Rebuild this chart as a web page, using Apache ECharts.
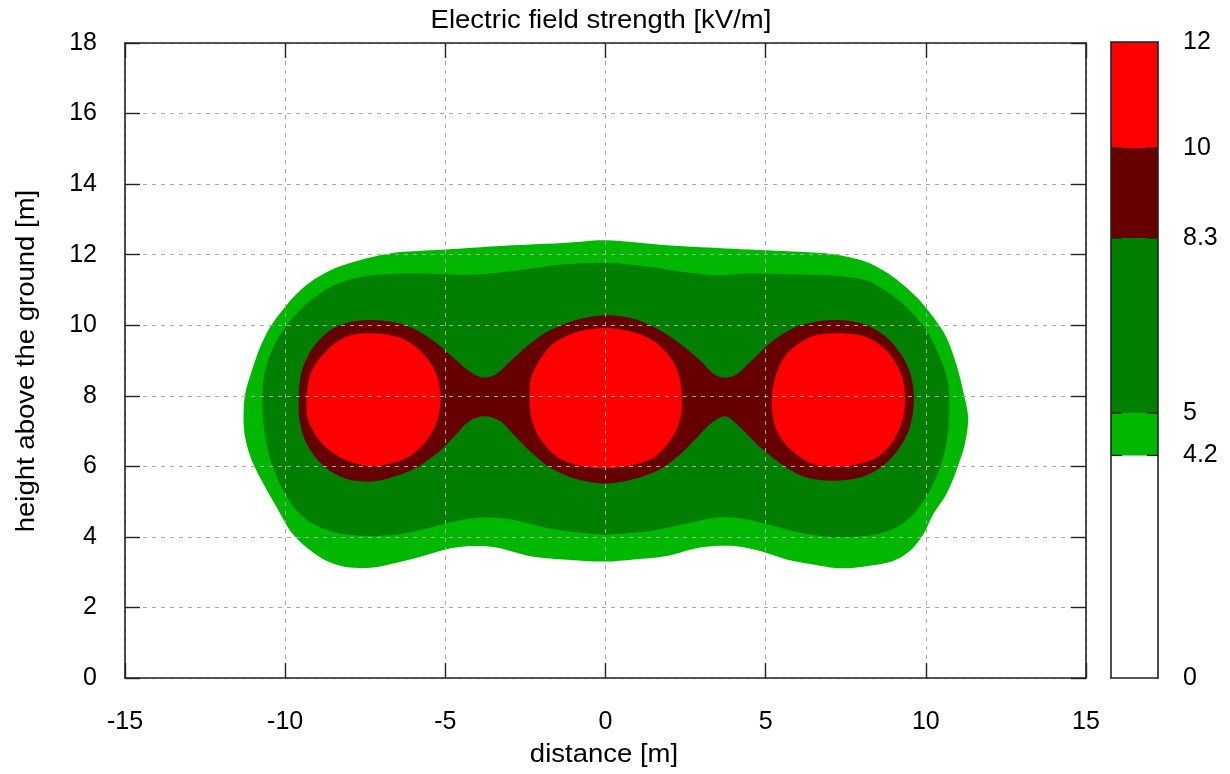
<!DOCTYPE html>
<html>
<head>
<meta charset="utf-8">
<script src="https://cdn.jsdelivr.net/npm/echarts@6/dist/echarts.min.js"></script>
<style>
html,body{margin:0;padding:0;background:#fff;}
#chart{width:1230px;height:774px;}
</style>
</head>
<body>
<div id="chart"></div>
<script>
// ---------- data ----------
const titleText = 'Electric field strength [kV/m]';
const xName = 'distance [m]';
const yName = 'height above the ground [m]';

// colour bar levels (kV/m)
const levelBounds = [0, 4.2, 5, 8.3, 10, 12];
const levelLabels = ['0', '4.2', '5', '8.3', '10', '12'];

// contour boundaries, points [distance m, height m]
const contour4_2 = [
  [0,12.41],[1.92,12.27],[4.0,12.17],[6.07,12.08],[7.11,12.01],[8.15,11.79],[8.98,11.37],[9.71,10.8],
  [10.23,10.23],[10.64,9.66],[10.95,8.9],[11.16,8.15],[11.32,7.39],[11.22,6.63],[10.95,5.87],[10.64,5.21],
  [10.23,4.64],[9.92,4.07],[9.5,3.6],[8.98,3.32],[8.15,3.17],[7.32,3.11],[6.49,3.22],[5.66,3.36],
  [4.83,3.6],[4.0,3.74],[2.96,3.7],[1.92,3.46],[0.88,3.36],[0,3.3],
  [-1.33,3.36],[-2.37,3.46],[-3.41,3.7],[-4.24,3.74],[-4.96,3.65],[-5.69,3.46],[-6.52,3.27],[-7.25,3.13],
  [-7.97,3.13],[-8.7,3.32],[-9.33,3.7],[-9.84,4.17],[-10.26,4.83],[-10.67,5.49],[-11.04,6.16],[-11.25,6.82],
  [-11.3,7.39],[-11.25,8.05],[-11.04,8.71],[-10.78,9.38],[-10.47,9.95],[-10.05,10.47],[-9.64,10.89],
  [-9.22,11.22],[-8.6,11.55],[-7.87,11.79],[-7.04,11.98],[-6.31,12.08],[-4.96,12.15],[-3.41,12.24],
  [-2.37,12.29],[-1.33,12.33]
];
const contour5 = [
  [0,11.77],[1.4,11.65],[2.44,11.51],[3.48,11.41],[4.2,11.46],[5.04,11.46],[6.07,11.44],[7.11,11.41],
  [8.15,11.27],[8.88,10.89],[9.5,10.42],[10.02,9.85],[10.44,9.09],[10.7,8.34],[10.73,7.39],[10.64,6.63],
  [10.44,5.97],[10.12,5.3],[9.61,4.64],[8.98,4.22],[8.15,4.03],[7.11,4.0],[6.07,4.12],[5.04,4.36],
  [4.2,4.53],[3.48,4.55],[2.44,4.36],[1.4,4.17],[0,4.07],
  [-0.81,4.12],[-1.85,4.26],[-2.99,4.5],[-3.82,4.55],[-4.65,4.45],[-5.48,4.26],[-6.52,4.07],[-7.56,4.03],
  [-8.39,4.12],[-9.12,4.36],[-9.64,4.74],[-10.05,5.3],[-10.42,6.06],[-10.62,6.82],[-10.7,7.48],[-10.7,8.24],
  [-10.57,8.9],[-10.26,9.57],[-9.84,10.13],[-9.33,10.61],[-8.7,11.03],[-8.08,11.27],[-7.35,11.41],
  [-6.52,11.46],[-5.48,11.46],[-4.44,11.43],[-3.41,11.48],[-2.37,11.6],[-1.33,11.72]
];
const contour8_3 = [
  [0,10.28],[0.88,10.18],[1.71,9.85],[2.34,9.47],[2.96,9.0],[3.38,8.62],[3.74,8.51],[4.1,8.62],
  [4.62,9.05],[5.24,9.57],[6.07,9.99],[7.11,10.15],[8.05,10.04],[8.77,9.66],[9.29,9.09],[9.55,8.52],
  [9.63,7.86],[9.5,7.1],[9.19,6.54],[8.67,6.02],[7.94,5.68],[7.11,5.59],[6.28,5.68],[5.56,6.02],
  [4.83,6.54],[4.21,7.1],[3.74,7.42],[3.27,7.2],[2.86,6.82],[2.34,6.35],[1.71,5.92],[0.88,5.64],[0,5.51],
  [-0.91,5.64],[-1.74,5.97],[-2.37,6.44],[-2.89,6.92],[-3.3,7.29],[-3.77,7.42],[-4.24,7.29],[-4.65,6.92],
  [-5.17,6.44],[-5.79,6.02],[-6.52,5.73],[-7.25,5.57],[-8.08,5.64],[-8.81,6.02],[-9.33,6.63],[-9.55,7.29],
  [-9.58,7.96],[-9.48,8.71],[-9.12,9.38],[-8.6,9.85],[-7.97,10.09],[-7.25,10.15],[-6.62,10.09],
  [-6.1,9.95],[-5.38,9.57],[-4.65,9.0],[-4.13,8.62],[-3.77,8.52],[-3.41,8.62],[-2.89,9.05],[-2.37,9.47],
  [-1.74,9.85],[-0.91,10.15]
];
const contour10Left = [
  [-7.25,9.77],[-6.31,9.61],[-5.69,9.19],[-5.28,8.62],[-5.15,7.96],[-5.25,7.29],[-5.64,6.67],[-6.25,6.22],
  [-7.25,6.0],[-8.16,6.2],[-8.87,6.67],[-9.27,7.29],[-9.33,7.96],[-9.17,8.71],[-8.68,9.3],[-8.08,9.68]
];
const contour10Center = [
  [0,9.92],[0.88,9.8],[1.56,9.52],[2.02,9.09],[2.28,8.62],[2.39,7.96],[2.32,7.29],[2.02,6.73],
  [1.51,6.25],[0.78,6.02],[0,5.95],[-0.81,6.02],[-1.48,6.25],[-2.0,6.73],[-2.29,7.29],[-2.37,7.96],
  [-2.32,8.52],[-2.06,9.0],[-1.64,9.47],[-0.91,9.8]
];
const contour10Right = [
  [7.22,9.77],[8.15,9.66],[8.77,9.28],[9.19,8.71],[9.35,8.05],[9.29,7.39],[9.0,6.75],[8.43,6.23],
  [7.42,5.99],[6.49,6.06],[5.79,6.47],[5.35,7.01],[5.19,7.77],[5.3,8.52],[5.66,9.19],[6.39,9.66]
];

// ---------- styling ----------
const FONT = 'Liberation Sans, Arial, sans-serif';
const FS = 25;
const TEXT_STRETCH = 1.1;
const levelColors = ['#ffffff', '#00b800', '#007f00', '#660000', '#ff0000'];
const gridDash = {color: '#a8a8a8', width: 1, type: [4, 5]};
const FRAME_COLOR = '#222';
function frame() { return {show: true, onZero: false, lineStyle: {color: FRAME_COLOR, width: 1.6}}; }
function tickIn() { return {show: true, inside: true, length: 15, lineStyle: {color: FRAME_COLOR, width: 1.4}}; }
function hidden() { return {show: false}; }

function polygonSeries(points, color, z) {
  return {
    type: 'custom',
    coordinateSystem: 'cartesian2d',
    xAxisIndex: 0, yAxisIndex: 0,
    silent: true, z: z,
    encode: {x: 0, y: 1},
    data: points,
    renderItem: function (params, api) {
      if (params.dataIndex !== 0) return null;
      const pts = points.map(p => api.coord(p));
      return {type: 'polygon', shape: {points: pts, smooth: 0.3}, style: {fill: color, stroke: null}};
    }
  };
}

function label(text, x, y, rotation) {
  return {
    type: 'text', x: x, y: y, rotation: rotation || 0, scaleX: TEXT_STRETCH, z: 10, silent: true,
    style: {
      text: text, fill: '#000', font: FS + 'px ' + FONT,
      textAlign: 'center', align: 'center', textVerticalAlign: 'middle', verticalAlign: 'middle'
    }
  };
}

const barItems = levelBounds.slice(0, -1).map((lo, i) => [lo, levelBounds[i + 1], i]);

const chart = echarts.init(document.getElementById('chart'), null, {renderer: 'canvas'});
chart.setOption({
  animation: false,
  backgroundColor: '#fff',
  textStyle: {fontFamily: FONT, color: '#000'},
  graphic: [
    label(titleText, 601, 21, 0),
    label(xName, 604, 755, 0),
    label(yName, 27, 361, Math.PI / 2)
  ],
  grid: [
    {left: 125, right: 144, top: 43, bottom: 96},
    {left: 1111, width: 47, top: 42, bottom: 96}
  ],
  xAxis: [
    { // 0: bottom frame, ticks, labels
      gridIndex: 0, type: 'value', min: -15, max: 15, interval: 5, position: 'bottom', z: 6,
      axisLine: frame(), axisTick: tickIn(),
      axisLabel: {fontFamily: FONT, fontSize: FS, color: '#000', margin: 32},
      splitLine: hidden()
    },
    { // 1: top frame, ticks
      gridIndex: 0, type: 'value', min: -15, max: 15, interval: 5, position: 'top', z: 6,
      axisLine: frame(), axisTick: tickIn(), axisLabel: hidden(), splitLine: hidden()
    },
    { // 2: colour bar bottom
      gridIndex: 1, type: 'value', min: 0, max: 1, position: 'bottom', z: 6,
      axisLine: frame(), axisTick: hidden(), axisLabel: hidden(), splitLine: hidden()
    },
    { // 3: colour bar top
      gridIndex: 1, type: 'value', min: 0, max: 1, position: 'top', z: 6,
      axisLine: frame(), axisTick: hidden(), axisLabel: hidden(), splitLine: hidden()
    },
    { // 4: vertical dashed grid lines only
      gridIndex: 0, type: 'value', min: -15, max: 15, interval: 5, position: 'bottom', z: 5,
      axisLine: hidden(), axisTick: hidden(), axisLabel: hidden(),
      splitLine: {show: true, lineStyle: gridDash}
    }
  ],
  yAxis: [
    { // 0: left frame, ticks, labels
      gridIndex: 0, type: 'value', min: 0, max: 18, interval: 2, position: 'left', z: 6,
      axisLine: frame(), axisTick: tickIn(),
      axisLabel: {fontFamily: FONT, fontSize: FS, color: '#000', margin: 28},
      splitLine: hidden()
    },
    { // 1: right frame, ticks
      gridIndex: 0, type: 'value', min: 0, max: 18, interval: 2, position: 'right', z: 6,
      axisLine: frame(), axisTick: tickIn(), axisLabel: hidden(), splitLine: hidden()
    },
    { // 2: colour bar left edge
      gridIndex: 1, type: 'value', min: 0, max: 12, position: 'left', z: 6,
      axisLine: frame(), axisTick: hidden(), axisLabel: hidden(), splitLine: hidden()
    },
    { // 3: colour bar right edge with level labels
      gridIndex: 1, type: 'value', min: 0, max: 12, position: 'right', z: 6,
      axisLine: frame(), axisTick: hidden(),
      axisLabel: {
        show: true, fontFamily: FONT, fontSize: FS, color: '#000', margin: 25,
        customValues: levelBounds,
        formatter: function (v) { const i = levelBounds.indexOf(v); return i >= 0 ? levelLabels[i] : ''; }
      },
      splitLine: hidden()
    },
    { // 4: horizontal dashed grid lines only
      gridIndex: 0, type: 'value', min: 0, max: 18, interval: 2, position: 'left', z: 5,
      axisLine: hidden(), axisTick: hidden(), axisLabel: hidden(),
      splitLine: {show: true, lineStyle: gridDash}
    }
  ],
  series: [
    polygonSeries(contour4_2, levelColors[1], 2),
    polygonSeries(contour5, levelColors[2], 3),
    polygonSeries(contour8_3, levelColors[3], 4),
    polygonSeries(contour10Left, levelColors[4], 4.5),
    polygonSeries(contour10Center, levelColors[4], 4.5),
    polygonSeries(contour10Right, levelColors[4], 4.5),
    { // colour bar blocks with level tick marks
      type: 'custom', coordinateSystem: 'cartesian2d', xAxisIndex: 2, yAxisIndex: 2, silent: true, z: 2,
      data: barItems, encode: {y: [0, 1]},
      renderItem: function (params, api) {
        const lo = api.value(0), hi = api.value(1), idx = api.value(2);
        const p0 = api.coord([0, hi]);
        const p1 = api.coord([1, lo]);
        const children = [{
          type: 'rect',
          shape: {x: p0[0], y: p0[1], width: p1[0] - p0[0], height: p1[1] - p0[1]},
          style: {fill: levelColors[idx], stroke: null}
        }];
        if (lo > 0) {
          const tl = 11;
          children.push({type: 'line', shape: {x1: p0[0], y1: p1[1], x2: p0[0] + tl, y2: p1[1]},
                         style: {stroke: FRAME_COLOR, lineWidth: 1.4}, z2: 10});
          children.push({type: 'line', shape: {x1: p1[0] - tl, y1: p1[1], x2: p1[0], y2: p1[1]},
                         style: {stroke: FRAME_COLOR, lineWidth: 1.4}, z2: 10});
        }
        return {type: 'group', children: children};
      }
    }
  ]
});
</script>
</body>
</html>
